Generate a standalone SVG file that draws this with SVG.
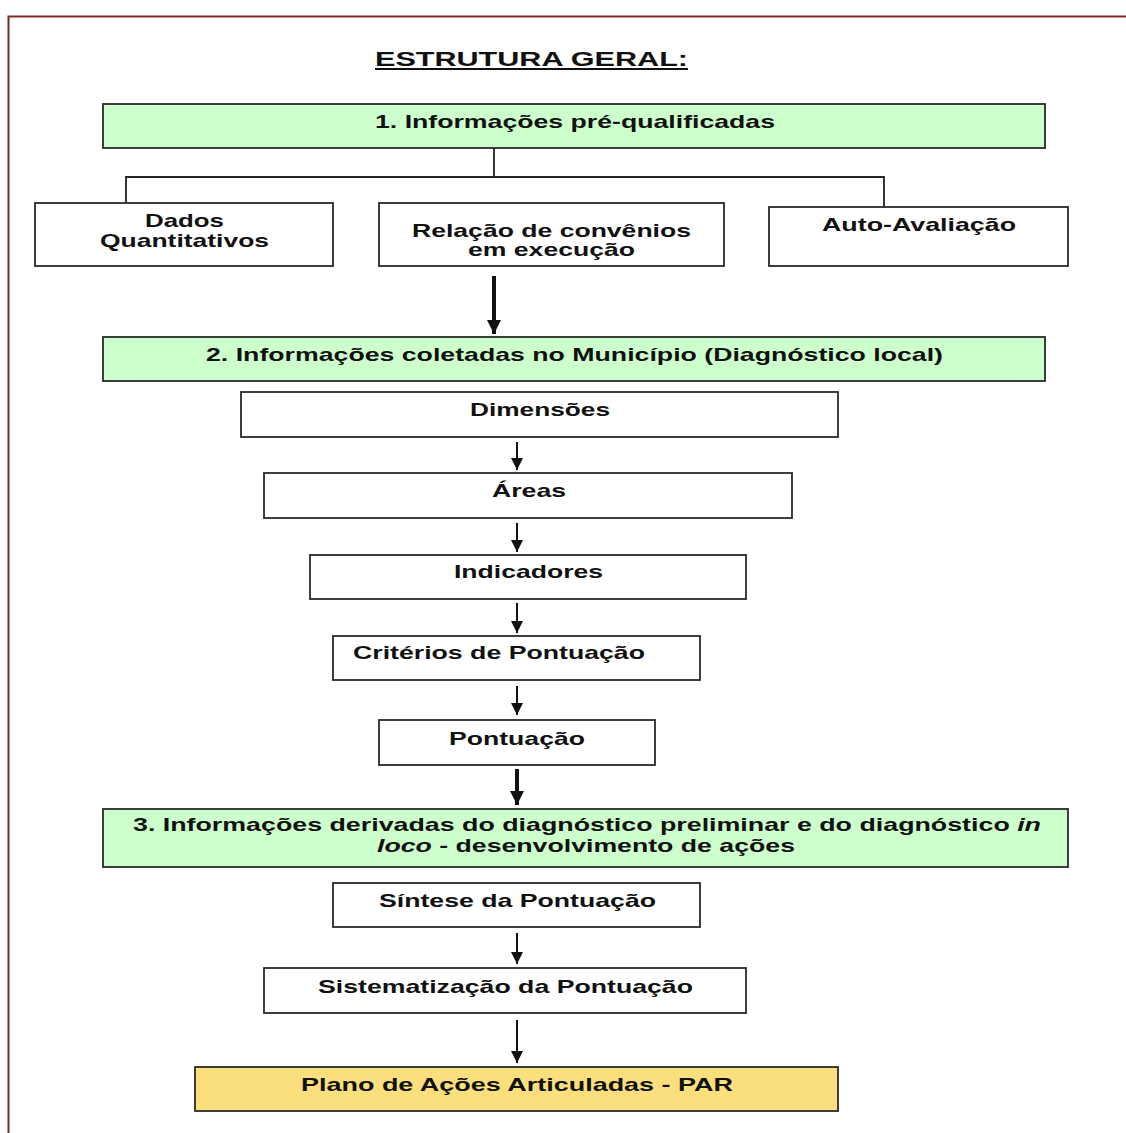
<svg xmlns="http://www.w3.org/2000/svg" width="1126" height="1133" viewBox="0 0 1126 1133">
<style>
.box{stroke:#2a2a2a;stroke-width:1.8;fill:#fff}
.g{fill:#ccffcc}
.y{fill:#fbdf7c}
text{font-family:"Liberation Sans",Arial,sans-serif;font-weight:bold;font-size:19px;fill:#111}
.c{stroke:#222;stroke-width:1.8;fill:none}
.a{stroke:#111;stroke-width:2;fill:none}
.t{stroke:#111;stroke-width:4;fill:none}
</style>
<defs>
<marker id="ah" markerUnits="userSpaceOnUse" markerWidth="14" markerHeight="12" refX="12" refY="6" orient="auto"><path d="M0,0 L12,6 L0,12 Z" fill="#111"/></marker>
<marker id="ahT" markerUnits="userSpaceOnUse" markerWidth="16" markerHeight="14" refX="14" refY="7" orient="auto"><path d="M0,0 L14,7 L0,14 Z" fill="#111"/></marker>
</defs>
<rect width="1126" height="1133" fill="#fff"/>
<path d="M8.5,1133 V16.5 H1126" stroke="#7a2828" stroke-width="2" fill="none"/>
<g id="title"><text x="375" y="66" textLength="313" lengthAdjust="spacingAndGlyphs" style="font-size:20px">ESTRUTURA GERAL:</text><line x1="375" y1="69" x2="688" y2="69" stroke="#111" stroke-width="2"/></g>
<g id="connectors">
<path class="c" d="M494,148 V177 M126,203 V177 H884 V207"/>
<line class="t" x1="494" y1="276" x2="494" y2="334" marker-end="url(#ahT)"/>
<line class="a" x1="517" y1="442" x2="517" y2="470" marker-end="url(#ah)"/>
<line class="a" x1="517" y1="523" x2="517" y2="552" marker-end="url(#ah)"/>
<line class="a" x1="517" y1="603" x2="517" y2="633" marker-end="url(#ah)"/>
<line class="a" x1="517" y1="686" x2="517" y2="715" marker-end="url(#ah)"/>
<line class="t" x1="517" y1="769" x2="517" y2="805" marker-end="url(#ahT)"/>
<line class="a" x1="517" y1="933" x2="517" y2="964" marker-end="url(#ah)"/>
<line class="a" x1="517" y1="1020" x2="517" y2="1063" marker-end="url(#ah)"/>
</g>
<g id="n1"><rect class="box g" x="103" y="104" width="942" height="44"/><text x="375" y="128" textLength="400" lengthAdjust="spacingAndGlyphs">1. Informações pré-qualificadas</text></g>
<g id="n-dados"><rect class="box" x="35" y="203" width="298" height="63"/><text x="145" y="227" textLength="79" lengthAdjust="spacingAndGlyphs">Dados</text><text x="100" y="247" textLength="169" lengthAdjust="spacingAndGlyphs">Quantitativos</text></g>
<g id="n-relacao"><rect class="box" x="379" y="203" width="345" height="63"/><text x="412" y="237" textLength="279" lengthAdjust="spacingAndGlyphs">Relação de convênios</text><text x="468" y="256" textLength="167" lengthAdjust="spacingAndGlyphs">em execução</text></g>
<g id="n-auto"><rect class="box" x="769" y="207" width="299" height="59"/><text x="822" y="231" textLength="194" lengthAdjust="spacingAndGlyphs">Auto-Avaliação</text></g>
<g id="n2"><rect class="box g" x="103" y="337" width="942" height="44"/><text x="206" y="361" textLength="737" lengthAdjust="spacingAndGlyphs">2. Informações coletadas no Município (Diagnóstico local)</text></g>
<g id="n-dim"><rect class="box" x="241" y="392" width="597" height="45"/><text x="470" y="416" textLength="140" lengthAdjust="spacingAndGlyphs">Dimensões</text></g>
<g id="n-areas"><rect class="box" x="264" y="473" width="528" height="45"/><text x="492" y="497" textLength="74" lengthAdjust="spacingAndGlyphs">Áreas</text></g>
<g id="n-ind"><rect class="box" x="310" y="555" width="436" height="44"/><text x="454" y="578" textLength="149" lengthAdjust="spacingAndGlyphs">Indicadores</text></g>
<g id="n-crit"><rect class="box" x="333" y="636" width="367" height="44"/><text x="353" y="659" textLength="292" lengthAdjust="spacingAndGlyphs">Critérios de Pontuação</text></g>
<g id="n-pont"><rect class="box" x="379" y="720" width="276" height="45"/><text x="449" y="745" textLength="136" lengthAdjust="spacingAndGlyphs">Pontuação</text></g>
<g id="n3"><rect class="box g" x="103" y="809" width="965" height="58"/><text x="133" y="831" textLength="908" lengthAdjust="spacingAndGlyphs">3. Informações derivadas do diagnóstico preliminar e do diagnóstico <tspan font-style="italic">in</tspan></text><text x="377" y="852" textLength="418" lengthAdjust="spacingAndGlyphs"><tspan font-style="italic">loco</tspan> - desenvolvimento de ações</text></g>
<g id="n-sint"><rect class="box" x="333" y="883" width="367" height="44"/><text x="379" y="907" textLength="277" lengthAdjust="spacingAndGlyphs">Síntese da Pontuação</text></g>
<g id="n-sist"><rect class="box" x="264" y="968" width="482" height="45"/><text x="318" y="993" textLength="375" lengthAdjust="spacingAndGlyphs">Sistematização da Pontuação</text></g>
<g id="n-par"><rect class="box y" x="195" y="1067" width="643" height="44"/><text x="301" y="1091" textLength="432" lengthAdjust="spacingAndGlyphs">Plano de Ações Articuladas - PAR</text></g>
</svg>
